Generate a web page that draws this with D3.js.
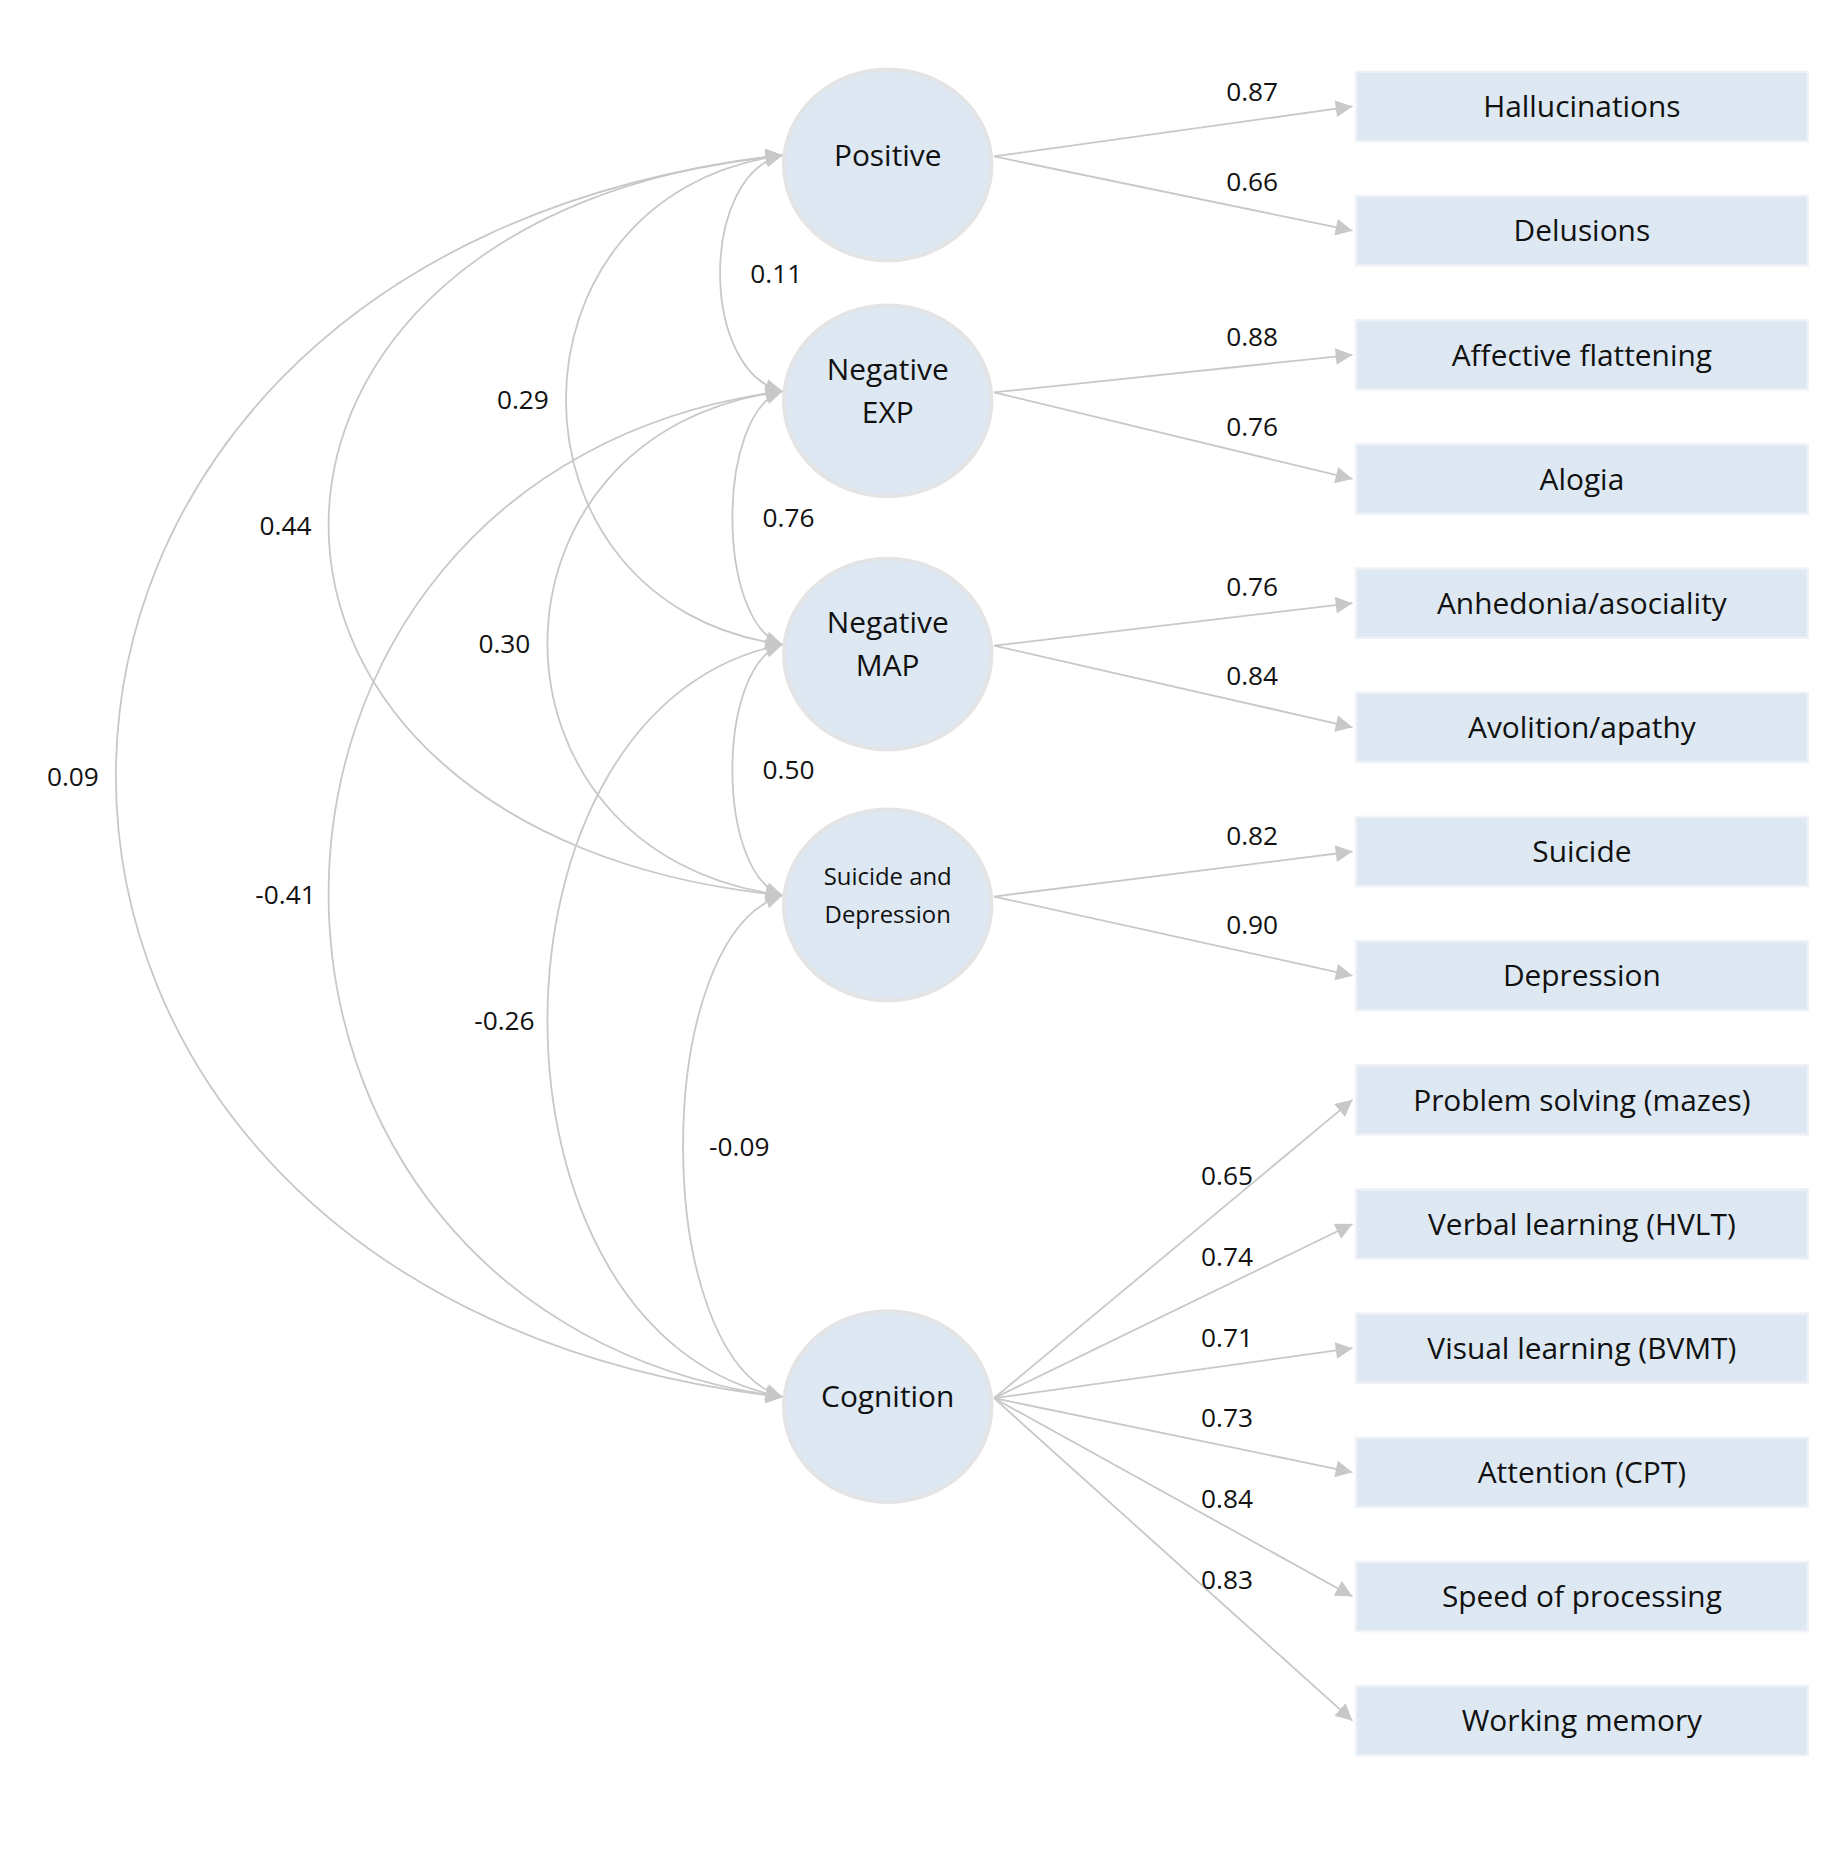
<!DOCTYPE html>
<html>
<head>
<meta charset="utf-8">
<script src="https://cdn.jsdelivr.net/npm/d3@7"></script>
<style>
  body { margin: 0; background: #fff; }
  text { font-family: "Open Sans", "Noto Sans", sans-serif; fill: #111; }
</style>
</head>
<body>
<svg id="chart"></svg>
<script>
'use strict';

// latent factors (label lines)
var factors = [
  { key: 'pos', lines: ['Positive'] },
  { key: 'exp', lines: ['Negative', 'EXP'] },
  { key: 'map', lines: ['Negative', 'MAP'] },
  { key: 'sui', lines: ['Suicide and', 'Depression'], small: true },
  { key: 'cog', lines: ['Cognition'] }
];
// factor vertical slot (in indicator-row units)
var factorSlot = { pos: 0.97, exp: 2.87, map: 4.91, sui: 6.93, cog: 10.97 };

var indicators = ['Hallucinations', 'Delusions', 'Affective flattening', 'Alogia',
  'Anhedonia/asociality', 'Avolition/apathy', 'Suicide', 'Depression',
  'Problem solving (mazes)', 'Verbal learning (HVLT)', 'Visual learning (BVMT)',
  'Attention (CPT)', 'Speed of processing', 'Working memory'];
var indicatorFactor = ['pos', 'pos', 'exp', 'exp', 'map', 'map', 'sui', 'sui',
  'cog', 'cog', 'cog', 'cog', 'cog', 'cog'];
var loadings = [0.87, 0.66, 0.88, 0.76, 0.76, 0.84, 0.82, 0.90,
  0.65, 0.74, 0.71, 0.73, 0.84, 0.83];

// correlations between factors
var corrFrom = ['pos', 'pos', 'pos', 'pos', 'exp', 'exp', 'exp', 'map', 'map', 'sui'];
var corrTo   = ['exp', 'map', 'sui', 'cog', 'map', 'sui', 'cog', 'sui', 'cog', 'cog'];
var corrVals = ['0.11', '0.29', '0.44', '0.09', '0.76', '0.30', '-0.41', '0.50', '-0.26', '-0.09'];
// how far left each arc bulges (0 = tight, 1 = widest)
var corrBulge = [0.02, 0.27, 0.655, 1.0, 0.0, 0.30, 0.655, 0.0, 0.30, 0.08];

var W = 1530, H = 1559;
var svg = d3.select('#chart').attr('width', 1828).attr('height', 1863)
  .attr('viewBox', '0 0 ' + W + ' ' + H);

var y = d3.scaleLinear().domain([0, 14]).range([37, 1492]);
var bulge = d3.scaleLinear().domain([0, 1]).range([613, 97]);
var cx = 743, rx = 87, ry = 80;
var boxX = 1135, boxW = 378, boxH = 58;
var lineColor = '#c8c8c8';

svg.append('defs').append('marker').attr('id', 'arr')
  .attr('viewBox', '0 0 10 10').attr('refX', 10).attr('refY', 5)
  .attr('markerWidth', 20).attr('markerHeight', 14).attr('markerUnits', 'userSpaceOnUse')
  .attr('orient', 'auto-start-reverse')
  .append('path').attr('d', 'M0,0 L10,5 L0,10 Z').attr('fill', lineColor);

function fy(k) { return y(factorSlot[k]); }

// correlation arcs
var arcs = svg.append('g');
corrFrom.forEach(function (a, i) {
  var b = corrTo[i];
  var x0 = 655, y0 = fy(a) - 8, y1 = fy(b) - 8;
  var L = bulge(corrBulge[i]);
  var c = x0 + (L - x0) / 0.75;
  var h = y1 - y0;
  arcs.append('path')
    .attr('d', 'M' + x0 + ',' + y0 + ' C' + c + ',' + (y0 + 0.08 * h) + ' ' + c + ',' + (y1 - 0.08 * h) + ' ' + x0 + ',' + y1)
    .attr('fill', 'none').attr('stroke', lineColor).attr('stroke-width', 1.5)
    .attr('marker-start', 'url(#arr)').attr('marker-end', 'url(#arr)');
  var lx = corrBulge[i] < 0.12 ? L + 47 : L - 36;
  arcs.append('text').attr('x', lx).attr('y', (y0 + y1) / 2 + 8)
    .attr('text-anchor', 'middle').attr('font-size', 22).text(corrVals[i]);
});

// loading arrows
var load = svg.append('g');
indicators.forEach(function (name, i) {
  var f = indicatorFactor[i];
  var x0 = cx + rx + 2, y0 = fy(f) - 7;
  var x1 = boxX - 3, y1 = y(i + 0.5);
  load.append('line').attr('x1', x0).attr('y1', y0).attr('x2', x1).attr('y2', y1)
    .attr('stroke', lineColor).attr('stroke-width', 1.5).attr('marker-end', 'url(#arr)');
  var t = f === 'cog' ? 0.65 : 0.72;
  load.append('text').attr('x', x0 + t * (x1 - x0)).attr('y', y0 + t * (y1 - y0) - 16)
    .attr('text-anchor', 'middle').attr('font-size', 22).text(loadings[i].toFixed(2));
});

// indicator boxes
var boxes = svg.append('g').selectAll('g').data(indicators).enter().append('g');
boxes.append('rect').attr('x', boxX).attr('y', function (d, i) { return y(i + 0.5) - boxH / 2; })
  .attr('width', boxW).attr('height', boxH)
  .attr('fill', '#dde8f2').attr('stroke', '#eef2f6').attr('stroke-width', 2);
boxes.append('text').attr('x', boxX + boxW / 2).attr('y', function (d, i) { return y(i + 0.5) + 9; })
  .attr('text-anchor', 'middle').attr('font-size', 25).text(function (d) { return d; });

// factor circles
var nodes = svg.append('g').selectAll('g').data(factors).enter().append('g')
  .attr('transform', function (d) { return 'translate(' + cx + ',' + fy(d.key) + ')'; });
nodes.append('ellipse').attr('rx', rx).attr('ry', ry)
  .attr('fill', '#dde8f3').attr('stroke', '#e4e4e4').attr('stroke-width', 3);
nodes.each(function (d) {
  var g = d3.select(this);
  var fs = d.small ? 20 : 25;
  var gap = d.small ? 32 : 36;
  var top = -((d.lines.length - 1) * gap) / 2 - 8;
  d.lines.forEach(function (ln, j) {
    g.append('text').attr('y', top + j * gap + fs * 0.35).attr('text-anchor', 'middle')
      .attr('font-size', fs).text(ln);
  });
});
</script>
</body>
</html>
